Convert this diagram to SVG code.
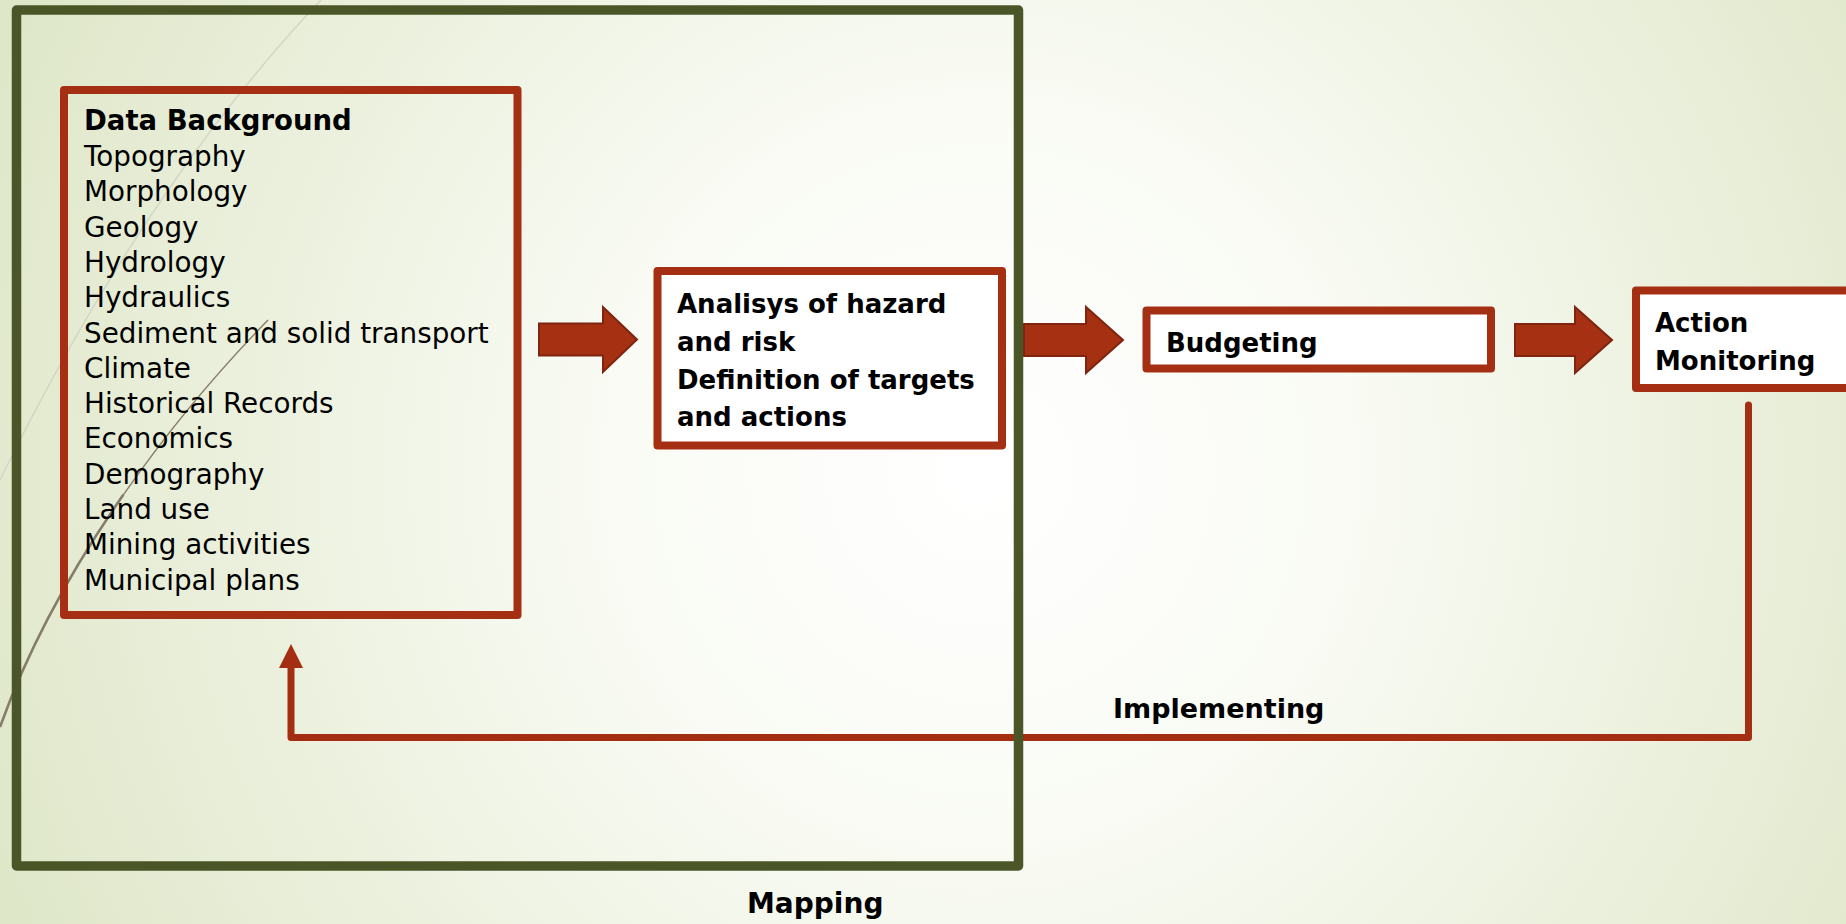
<svg xmlns="http://www.w3.org/2000/svg" width="1846" height="924" viewBox="0 0 1846 924">
  <defs>
    <radialGradient id="bg" gradientUnits="userSpaceOnUse" cx="980" cy="470" r="1060">
      <stop offset="0" stop-color="#ffffff"/>
      <stop offset="0.35" stop-color="#f9fbf4"/>
      <stop offset="1" stop-color="#dfe7c9"/>
    </radialGradient>
    <style>
      .box { fill: #ffffff; stroke: #a52f13; stroke-width: 8; stroke-linejoin: round; }
      .box-open { fill: none; stroke: #a52f13; stroke-width: 8; stroke-linejoin: round; }
      .frame { fill: none; stroke: #4b5628; stroke-width: 9.5; stroke-linejoin: round; }
      .block-arrow { fill: #a53012; stroke: #7e2411; stroke-width: 2; stroke-linejoin: miter; }
      .feedback { fill: none; stroke: #a32e12; stroke-width: 7; stroke-linejoin: round; stroke-linecap: round; }
      .head { fill: #a32e12; }
      .t { font-family: "DejaVu Sans", "Liberation Sans", sans-serif; fill: #000000; }
      .reg { font-size: 27.8px; font-weight: normal; }
      .bold { font-size: 27px; font-weight: bold; }
      .boxtxt { font-size: 26px; font-weight: bold; }
      .wisp { fill: none; stroke: #857d6a; }
    </style>
  </defs>

  <!-- backdrop -->
  <rect x="0" y="0" width="1846" height="924" fill="url(#bg)"/>

  <!-- thin decorative strokes on the left -->
  <path d="M321,0 C240,85 120,235 0,480" fill="none" stroke="#d3d6c4" stroke-width="1.5"/>
  <path class="wisp" d="M268,320 C224,365 172,425 123.5,494.6" stroke-width="1.4"/>
  <path class="wisp" d="M123.5,494.6 C75,564.25 30,643.5 0,727" stroke-width="2.6"/>

  <!-- connectors -->
  <g id="connectors">
    <polygon class="block-arrow" points="539,323.5 603,323.5 603,307 637,339.5 603,372 603,355.5 539,355.5"/>
    <polygon class="block-arrow" points="1024,324 1086,324 1086,307 1123,340 1086,373 1086,356 1024,356"/>
    <polygon class="block-arrow" points="1515,324 1575,324 1575,307 1612,340 1575,373 1575,356 1515,356"/>
    <path class="feedback" d="M1748.5,405 V737.5 H291 V666"/>
    <polygon class="head" points="291,644 279,668 303,668"/>
    <text class="t bold" x="1113" y="718">Implementing</text>
  </g>

  <!-- input data node -->
  <g id="data-background">
    <rect class="box-open" x="64" y="90" width="453.5" height="525"/>
    <text class="t bold" x="84" y="130" style="font-size:27.5px">Data Background</text>
    <text class="t reg" x="84" y="166">Topography</text>
    <text class="t reg" x="84" y="201.3">Morphology</text>
    <text class="t reg" x="84" y="236.6">Geology</text>
    <text class="t reg" x="84" y="271.9">Hydrology</text>
    <text class="t reg" x="84" y="307.2">Hydraulics</text>
    <text class="t reg" x="84" y="342.5">Sediment and solid transport</text>
    <text class="t reg" x="84" y="377.8">Climate</text>
    <text class="t reg" x="84" y="413.1">Historical Records</text>
    <text class="t reg" x="84" y="448.4">Economics</text>
    <text class="t reg" x="84" y="483.7">Demography</text>
    <text class="t reg" x="84" y="519">Land use</text>
    <text class="t reg" x="84" y="554.3">Mining activities</text>
    <text class="t reg" x="84" y="589.6">Municipal plans</text>
  </g>

  <!-- analysis node -->
  <g id="analysis">
    <rect class="box" x="657.5" y="271" width="344.5" height="174.5"/>
    <text class="t boxtxt" x="677" y="313">Analisys of hazard</text>
    <text class="t boxtxt" x="677" y="351">and risk</text>
    <text class="t boxtxt" x="677" y="388.5">Definition of targets</text>
    <text class="t boxtxt" x="677" y="426">and actions</text>
  </g>

  <!-- budgeting node -->
  <g id="budgeting">
    <rect class="box" x="1146.5" y="310.5" width="344.5" height="58"/>
    <text class="t boxtxt" x="1166" y="352">Budgeting</text>
  </g>

  <!-- monitoring node -->
  <g id="action-monitoring">
    <rect class="box" x="1636" y="290.5" width="230" height="97.5"/>
    <text class="t boxtxt" x="1655" y="332">Action</text>
    <text class="t boxtxt" x="1655" y="370">Monitoring</text>
  </g>

  <!-- mapping frame -->
  <g id="mapping">
    <rect class="frame" x="16.5" y="10" width="1002" height="856"/>
    <text class="t bold" x="747" y="913" style="font-size:28px">Mapping</text>
  </g>
</svg>
